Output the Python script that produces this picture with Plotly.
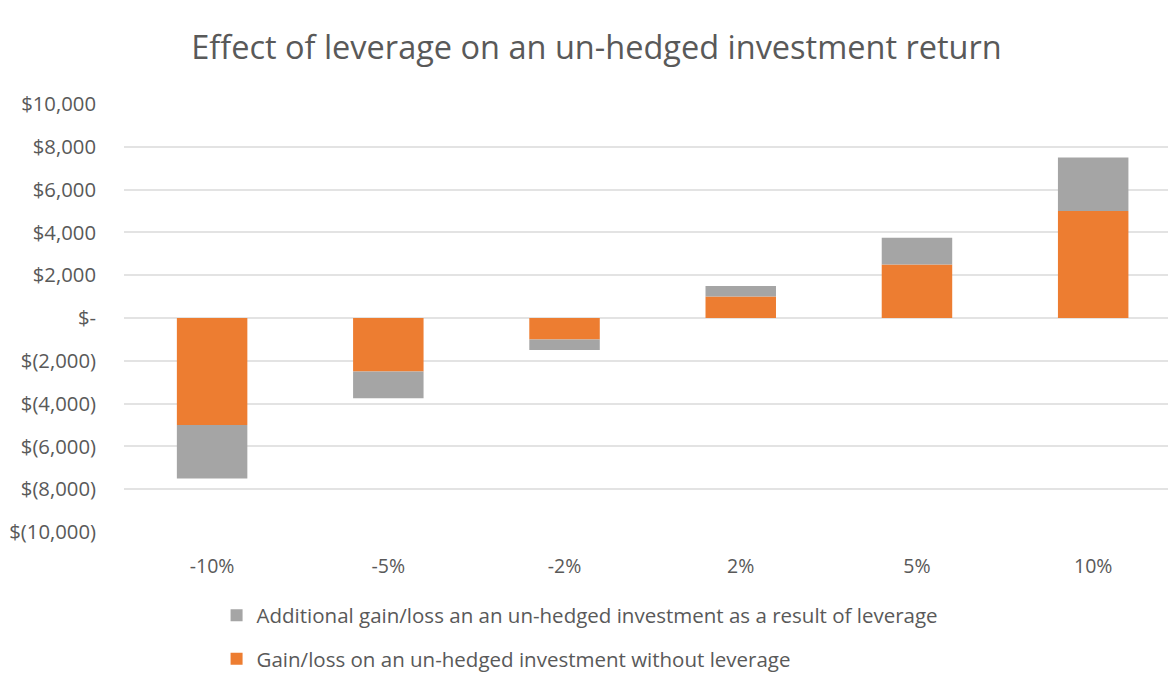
import plotly.graph_objects as go

categories = ["-10%", "-5%", "-2%", "2%", "5%", "10%"]
base_values = [-5000, -2500, -1000, 1000, 2500, 5000]
additional_values = [-2500, -1250, -500, 500, 1250, 2500]
tick_vals = [10000, 8000, 6000, 4000, 2000, 0, -2000, -4000, -6000, -8000, -10000]
tick_text = ["$10,000", "$8,000", "$6,000", "$4,000", "$2,000", "$-", "$(2,000)",
             "$(4,000)", "$(6,000)", "$(8,000)", "$(10,000)"]

name_base = "Gain/loss on an un-hedged investment without leverage"
name_add = "Additional gain/loss an an un-hedged investment as a result of leverage"

FONT = "'Open Sans', sans-serif"
TXT = "#595959"

# page body has an 8px default margin, so the figure is sized to fit the window
W, H = 1168, 666

fig = go.Figure()
fig.add_trace(go.Bar(x=categories, y=base_values, name=name_base, marker_color="#ED7D31",
                     marker_line_width=0, width=0.4, legendrank=2, legendgroup="b"))
fig.add_trace(go.Bar(x=categories, y=additional_values, name=name_add, marker_color="#A5A5A5",
                     marker_line_width=0, width=0.4, legendrank=1, legendgroup="a"))

fig.update_layout(
    barmode="relative",
    width=W, height=H,
    paper_bgcolor="white", plot_bgcolor="white",
    margin=dict(l=116, r=0, t=96, b=142, autoexpand=False),
    font=dict(family=FONT, color=TXT, size=19),
    title=dict(text="Effect of leverage on an un-hedged investment return",
               x=588.5 / W, xanchor="center", y=1 - 40 / H, yanchor="middle",
               yref="container", font=dict(size=32.5, color=TXT, family=FONT)),
    legend=dict(orientation="v", x=0.088, xanchor="left", y=-0.148, yanchor="top",
                traceorder="grouped", tracegroupgap=14, borderwidth=0,
                bgcolor="rgba(0,0,0,0)",
                font=dict(size=20.5, color=TXT, family=FONT)),
    showlegend=True,
)
fig.update_xaxes(range=[-0.5, 5.47], showgrid=False, showline=False, zeroline=False,
                 tickfont=dict(size=19.5), ticklabelstandoff=20, automargin=False)
fig.update_yaxes(range=[-10000, 10000], tickvals=tick_vals, ticktext=tick_text,
                 showgrid=True, gridcolor="#E3E3E3", gridwidth=1.5, zeroline=False,
                 showline=False, tickfont=dict(size=20.3), ticklabelstandoff=27,
                 automargin=False)

fig.write_html("out.html")
